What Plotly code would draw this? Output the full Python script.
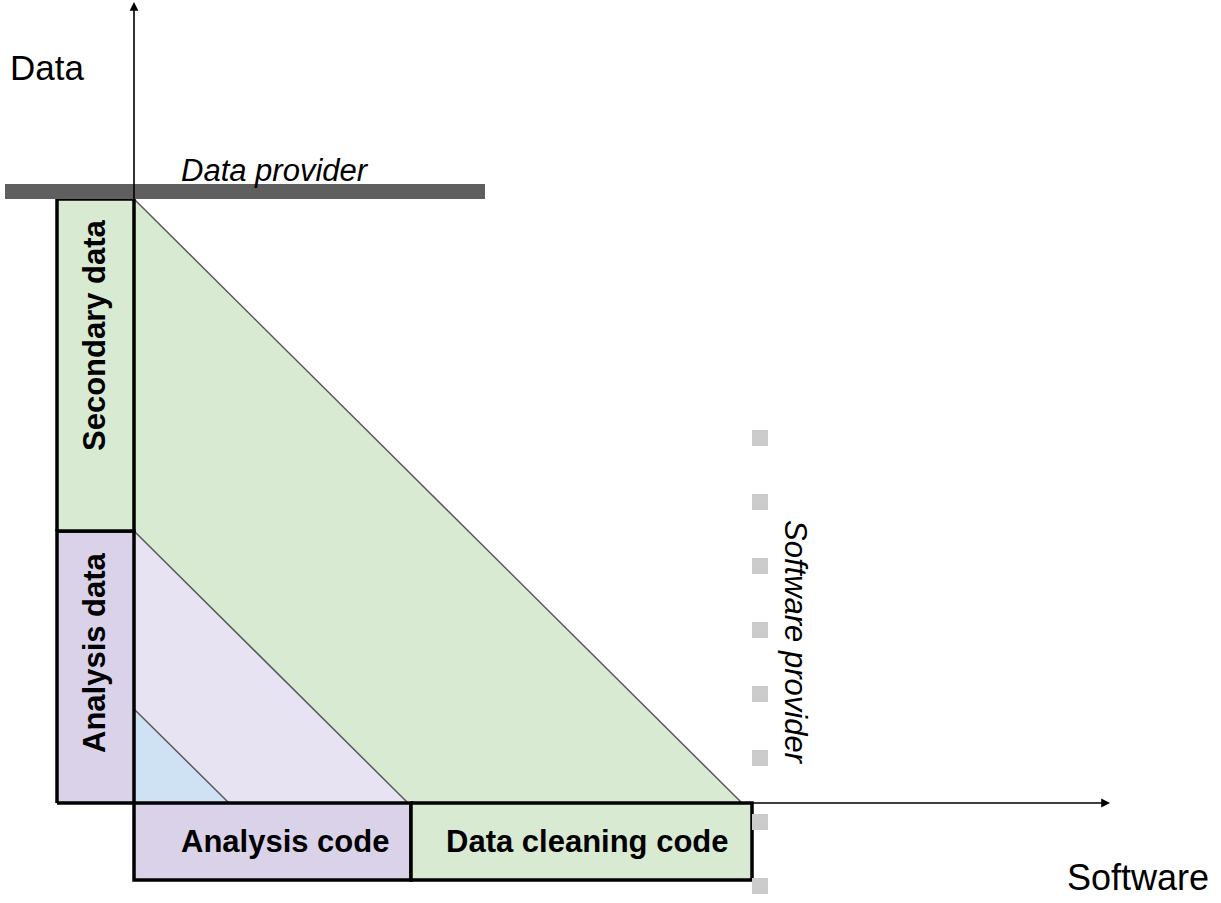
import plotly.graph_objects as go

# ---- diagram content (origin = crossing of the two axes; x = software, y = data) ----
layer_names = ["Data cleaning", "Analysis", "Core"]
layer_reach_software = [608, 274, 95]
layer_reach_data = [604, 272, 94]
layer_colors = ["#d9ead3", "#e7e3f3", "#cfe2f3"]

data_segments = ["Analysis data", "Secondary data"]
data_bounds = [0, 272, 604]
data_colors = ["#d9d2e9", "#d9ead3"]

software_segments = ["Analysis code", "Data cleaning code"]
software_bounds = [0, 277, 618]
software_colors = ["#d9d2e9", "#d9ead3"]

provider_marks_y = [365, 301, 237, 173, 109, 45, -19, -83]
provider_marks_x = 626

FONT = "Liberation Sans, Arial, sans-serif"
BAND = 77

fig = go.Figure()

# layered triangles
for name, rx, ry, col in zip(layer_names, layer_reach_software, layer_reach_data, layer_colors):
    fig.add_trace(go.Scatter(x=[0, rx, 0, 0], y=[0, 0, ry, 0], mode="lines", fill="toself",
                             fillcolor=col, line=dict(color="#595959", width=1.5),
                             name=name, hoverinfo="skip", showlegend=False))

# data axis boxes
for i, (lab, col) in enumerate(zip(data_segments, data_colors)):
    lo, hi = data_bounds[i], data_bounds[i + 1]
    fig.add_trace(go.Scatter(x=[-BAND, 0, 0, -BAND, -BAND], y=[lo, lo, hi, hi, lo], mode="lines",
                             fill="toself", fillcolor=col, line=dict(color="black", width=3.5),
                             name=lab, hoverinfo="skip", showlegend=False))

# software axis boxes
for i, (lab, col) in enumerate(zip(software_segments, software_colors)):
    lo, hi = software_bounds[i], software_bounds[i + 1]
    fig.add_trace(go.Scatter(x=[lo, hi, hi, lo, lo], y=[0, 0, -BAND, -BAND, 0], mode="lines",
                             fill="toself", fillcolor=col, line=dict(color="black", width=3.5),
                             name=lab, hoverinfo="skip", showlegend=False))

# data provider bar
fig.add_trace(go.Scatter(x=[-129, 351], y=[611.5, 611.5], mode="lines",
                         line=dict(color="#5f5f5f", width=15), hoverinfo="skip", showlegend=False))

# software provider dotted marks
fig.add_trace(go.Scatter(x=[provider_marks_x] * len(provider_marks_y), y=provider_marks_y,
                         mode="markers", marker=dict(symbol="square", size=16, color="#cccccc"),
                         hoverinfo="skip", showlegend=False))

# axis arrows
arrow = dict(showarrow=True, arrowhead=2, arrowsize=1.1, arrowwidth=1.6, arrowcolor="black",
             axref="x", ayref="y", text="")
fig.add_annotation(x=0, y=801, ax=0, ay=0, **arrow)
fig.add_annotation(x=976, y=0, ax=0, ay=0, **arrow)

# labels
fig.add_annotation(x=-87, y=736, text="Data", showarrow=False, font=dict(family=FONT, size=35, color="black"))
fig.add_annotation(x=1004, y=-74, text="Software", showarrow=False, font=dict(family=FONT, size=36, color="black"))
fig.add_annotation(x=141, y=633, text="<i>Data provider</i>", showarrow=False,
                   font=dict(family=FONT, size=31, color="black"))
fig.add_annotation(x=662, y=161, text="<i>Software provider</i>", showarrow=False, textangle=90,
                   font=dict(family=FONT, size=31, color="black"))

bold = dict(family=FONT, size=31, color="black")
data_label_y = [150, 468]
for lab, yy in zip(data_segments, data_label_y):
    fig.add_annotation(x=-40, y=yy, text="<b>%s</b>" % lab, showarrow=False, textangle=-90, font=bold)
software_label_x = [151, 453]
for lab, xx in zip(software_segments, software_label_x):
    fig.add_annotation(x=xx, y=-38, text="<b>%s</b>" % lab, showarrow=False, font=bold)

fig.update_layout(
    width=1221, height=903, margin=dict(l=0, r=0, t=0, b=0),
    plot_bgcolor="white", paper_bgcolor="white",
    xaxis=dict(range=[-134, 1087], visible=False, fixedrange=True),
    yaxis=dict(range=[-100, 803], visible=False, fixedrange=True),
    showlegend=False,
)

fig.write_html("out.html", config={"displayModeBar": False},
               post_script="document.body.style.margin='0';document.body.style.overflow='hidden';")
